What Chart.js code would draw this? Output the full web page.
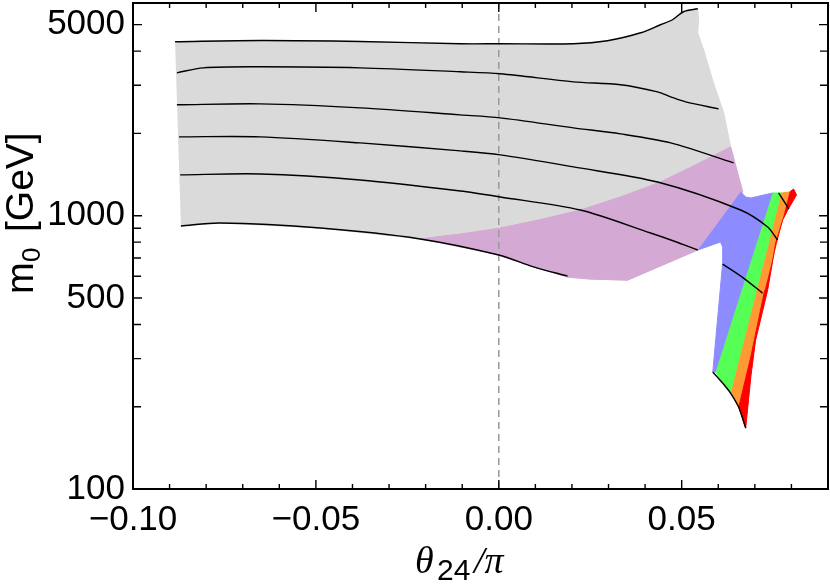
<!DOCTYPE html>
<html>
<head>
<meta charset="utf-8">
<script src="https://cdn.jsdelivr.net/npm/chart.js@4.4.1/dist/chart.umd.min.js"></script>
<style>
html, body { margin: 0; padding: 0; background: #fff; }
#wrap { width: 830px; height: 584px; }
</style>
</head>
<body>
<div id="wrap"><canvas id="plot" width="830" height="584"></canvas></div>
<script>
// axis ticks
const xMajorTicks = [-0.10, -0.05, 0.00, 0.05];
const xMinorTicks = [-0.09, -0.08, -0.07, -0.06, -0.04, -0.03, -0.02, -0.01, 0.01, 0.02, 0.03, 0.04, 0.06, 0.07, 0.08];
const yMajorTicks = [100, 500, 1000, 5000];
const yMinorTicks = [200, 300, 400, 600, 700, 800, 900, 2000, 3000, 4000];

// regions, points are [theta24/pi, m0 in GeV]
const grayRegion = [
    [-0.0885, 4329], [-0.0652, 4375], [-0.0379, 4340], [-0.0105, 4256], [0.0004, 4256],
    [0.0204, 4256], [0.0297, 4365], [0.0388, 4669], [0.0442, 4995], [0.0475, 5210],
    [0.0505, 5574], [0.0544, 5716], [0.0546, 5200], [0.0544, 4669], [0.0560, 4046],
    [0.0587, 3063], [0.0615, 2378], [0.0634, 1785], [0.0653, 1434], [0.0667, 1221],
    [0.0544, 749], [0.0352, 581], [0.0251, 586], [0.0188, 596], [0.0095, 650],
    [0.0, 718], [-0.0215, 822], [-0.0488, 901], [-0.0762, 940], [-0.0869, 917]
];
const purpleRegion = [
    [-0.0215, 822], [-0.0105, 857], [0.0004, 901], [0.0114, 968], [0.0223, 1049],
    [0.0333, 1171], [0.0442, 1328], [0.0538, 1534], [0.0634, 1785], [0.0653, 1434],
    [0.0667, 1221], [0.0544, 749], [0.0352, 581], [0.0251, 586], [0.0188, 596],
    [0.0095, 650], [0.0, 718]
];
const blueRegion = [
    [0.0661, 1221], [0.0675, 1171], [0.0689, 1161], [0.0749, 1211], [0.0593, 268],
    [0.0585, 268], [0.0612, 671], [0.0612, 768], [0.0606, 801], [0.0544, 749]
];
const greenRegion = [
    [0.0749, 1211], [0.0773, 1211], [0.0634, 224], [0.0612, 244], [0.0593, 268]
];
const orangeRegion = [
    [0.0773, 1211], [0.0795, 1221], [0.0727, 534], [0.0689, 304], [0.0656, 199], [0.0634, 224]
];
const redRegion = [
    [0.0795, 1221], [0.0806, 1252], [0.0814, 1191], [0.0790, 1049], [0.0776, 964],
    [0.0757, 794], [0.0735, 534], [0.0702, 350], [0.0689, 257], [0.0675, 167],
    [0.0656, 199], [0.0689, 304], [0.0727, 534]
];

// contour lines
const line1 = [
    [-0.0885, 4329], [-0.0652, 4375], [-0.0379, 4340], [-0.0105, 4256], [0.0004, 4256],
    [0.0204, 4256], [0.0297, 4365], [0.0388, 4669], [0.0442, 4995], [0.0475, 5210],
    [0.0505, 5574], [0.0544, 5716]
];
const line2 = [
    [-0.0880, 3332], [-0.0808, 3475], [-0.0652, 3505], [-0.0379, 3475], [-0.0105, 3361],
    [0.0004, 3304], [0.0204, 3088], [0.0333, 3012], [0.0434, 2838], [0.0470, 2722],
    [0.0511, 2609], [0.0601, 2460]
];
const line3 = [
    [-0.0880, 2545], [-0.0652, 2566], [-0.0379, 2481], [-0.0105, 2338], [0.0004, 2280],
    [0.0204, 2096], [0.0333, 1992], [0.0470, 1846], [0.0642, 1560]
];
const line4 = [
    [-0.0874, 1943], [-0.0652, 1943], [-0.0379, 1846], [-0.0105, 1726], [0.0004, 1669],
    [0.0204, 1508], [0.0434, 1328], [0.0661, 1049], [0.0735, 909], [0.0762, 815]
];
const line5 = [
    [-0.0871, 1410], [-0.0652, 1421], [-0.0379, 1351], [-0.0105, 1231], [0.0004, 1171],
    [0.0223, 1049], [0.0415, 864], [0.0478, 808], [0.0544, 749]
];
const line5b = [[0.0612, 665], [0.0669, 591], [0.0721, 521]];
const line6 = [
    [-0.0869, 917], [-0.0762, 940], [-0.0488, 901], [-0.0215, 822], [0.0, 718],
    [0.0095, 650], [0.0188, 601]
];
const bottomEdge = [[0.0585, 268], [0.0612, 244], [0.0634, 224], [0.0656, 199], [0.0675, 167]];
const tipSegment = [[0.0765, 1211], [0.0793, 1058]];
const zeroLine = [[0, 100], [0, 6000]];

const toPts = arr => arr.map(([x, y]) => ({ x, y }));

const region = (pts, color, order) => ({
    data: toPts(pts),
    showLine: true,
    fill: 'shape',
    backgroundColor: color,
    borderColor: color,
    borderWidth: 1,
    pointRadius: 0,
    tension: 0,
    order
});

const contour = pts => ({
    data: toPts(pts),
    showLine: true,
    fill: false,
    borderColor: '#000',
    borderWidth: 1.4,
    pointRadius: 0,
    tension: 0.3,
    order: 1
});

const sansFont = "'Liberation Sans', Arial, sans-serif";

// frame, inward ticks and axis titles
const framePlugin = {
    id: 'frame',
    afterDraw(chart) {
        const { ctx, chartArea: a, scales: { x, y } } = chart;
        ctx.save();
        ctx.strokeStyle = '#000';
        ctx.lineWidth = 1.4;
        ctx.beginPath();
        const tick = (px, len, vertical) => {
            if (vertical) {
                ctx.moveTo(px, a.bottom); ctx.lineTo(px, a.bottom - len);
                ctx.moveTo(px, a.top); ctx.lineTo(px, a.top + len);
            } else {
                ctx.moveTo(a.left, px); ctx.lineTo(a.left + len, px);
                ctx.moveTo(a.right, px); ctx.lineTo(a.right - len, px);
            }
        };
        xMajorTicks.forEach(v => tick(x.getPixelForValue(v), 9, true));
        xMinorTicks.forEach(v => tick(x.getPixelForValue(v), 5, true));
        yMajorTicks.forEach(v => tick(y.getPixelForValue(v), 9, false));
        yMinorTicks.forEach(v => tick(y.getPixelForValue(v), 8, false));
        ctx.stroke();
        ctx.lineWidth = 2;
        ctx.strokeRect(a.left, a.top, a.right - a.left, a.bottom - a.top);

        // x title: theta_24 / pi
        ctx.fillStyle = '#000';
        ctx.textBaseline = 'alphabetic';
        ctx.textAlign = 'left';
        ctx.font = "italic 38px 'Liberation Serif', serif";
        ctx.fillText('\u03b8', 415, 573);
        ctx.font = '30px ' + sansFont;
        ctx.fillText('24', 437, 580);
        ctx.font = "italic 38px 'Liberation Serif', serif";
        ctx.fillText('/\u03c0', 474, 573);

        // y title: m_0 [GeV]
        ctx.translate(33, 294);
        ctx.rotate(-Math.PI / 2);
        ctx.font = '38px ' + sansFont;
        ctx.fillText('m', 0, 0);
        ctx.font = '26px ' + sansFont;
        ctx.fillText('0', 32, 7);
        ctx.font = '39px ' + sansFont;
        ctx.fillText('[GeV]', 62, 0);
        ctx.restore();
    }
};

new Chart(document.getElementById('plot'), {
    type: 'scatter',
    data: {
        datasets: [
            region(grayRegion, '#dadada', 10),
            region(purpleRegion, '#d4a9d4', 9),
            region(blueRegion, '#8c8cff', 8),
            region(greenRegion, '#55ff55', 7),
            region(orangeRegion, '#ff9933', 6),
            region(redRegion, '#ff0000', 5),
            {
                data: toPts(zeroLine),
                showLine: true,
                fill: false,
                borderColor: '#999',
                borderWidth: 1.5,
                borderDash: [7, 5],
                pointRadius: 0,
                order: 4
            },
            contour(line1), contour(line2), contour(line3), contour(line4),
            contour(line5), contour(line5b), contour(line6),
            contour(bottomEdge), contour(tipSegment)
        ]
    },
    options: {
        responsive: false,
        animation: false,
        devicePixelRatio: 1,
        layout: { padding: { top: 3, right: 2, left: 0, bottom: 0 } },
        plugins: {
            legend: { display: false },
            tooltip: { enabled: false },
            title: { display: false }
        },
        scales: {
            x: {
                type: 'linear',
                min: -0.10,
                max: 0.09,
                grid: { display: false, drawTicks: false },
                border: { display: false },
                afterBuildTicks: s => { s.ticks = xMajorTicks.map(value => ({ value })); },
                afterFit: s => {
                    s.height = 95;
                    s.paddingLeft = 0;
                    s.paddingRight = 0;
                },
                ticks: {
                    autoSkip: false,
                    maxRotation: 0,
                    padding: 10,
                    color: '#000',
                    font: { family: sansFont, size: 35 },
                    callback: v => (v < -1e-9 ? '\u2212' : '') + Math.abs(v).toFixed(2)
                }
            },
            y: {
                type: 'logarithmic',
                min: 100,
                max: 6000,
                grid: { display: false, drawTicks: false },
                border: { display: false },
                afterBuildTicks: s => { s.ticks = yMajorTicks.map(value => ({ value })); },
                afterFit: s => {
                    s.width = 133;
                    s.paddingTop = 0;
                    s.paddingBottom = 0;
                },
                ticks: {
                    autoSkip: false,
                    padding: 8,
                    color: '#000',
                    font: { family: sansFont, size: 35 },
                    callback: v => String(v)
                }
            }
        }
    },
    plugins: [framePlugin]
});
</script>
</body>
</html>
